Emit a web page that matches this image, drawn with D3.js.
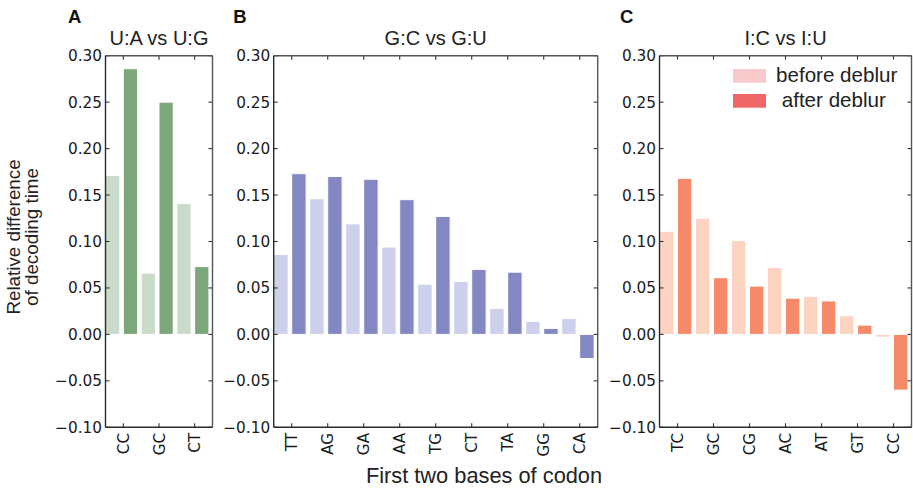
<!DOCTYPE html>
<html>
<head>
<meta charset="utf-8">
<script src="https://cdn.jsdelivr.net/npm/d3@7"></script>
<style>
  html, body { margin: 0; padding: 0; background: #fff; }
  svg { display: block; }
</style>
</head>
<body>
<svg id="chart" width="913" height="489"></svg>
<script>
// Relative difference of decoding time per first-two-base codon group
const codonsA = ["CC", "GC", "CT"];
const beforeA = [0.171, 0.066, 0.141];
const afterA  = [0.286, 0.250, 0.073];

const codonsB = ["TT", "AG", "GA", "AA", "TG", "CT", "TA", "GG", "CA"];
const beforeB = [0.086, 0.146, 0.119, 0.094, 0.054, 0.057, 0.028, 0.014, 0.017];
const afterB  = [0.173, 0.170, 0.167, 0.145, 0.127, 0.070, 0.067, 0.0065, -0.026];

const codonsC = ["TC", "GC", "CG", "AC", "AT", "GT", "CC"];
const beforeC = [0.111, 0.125, 0.101, 0.072, 0.041, 0.020, -0.003];
const afterC  = [0.168, 0.061, 0.052, 0.039, 0.036, 0.010, -0.060];

const yTicks = [-0.10, -0.05, 0.00, 0.05, 0.10, 0.15, 0.20, 0.25, 0.30];
const legendLabels = ["before deblur", " after deblur"];

const panels = [
  { letter: "A", title: "U:A vs U:G", codons: codonsA, before: beforeA, after: afterA,
    left: 105.5, right: 212.5, colors: ["#c9dbc9", "#7ba77b"] },
  { letter: "B", title: "G:C vs G:U", codons: codonsB, before: beforeB, after: afterB,
    left: 273.7, right: 597.7, colors: ["#cdd0ea", "#8388c2"] },
  { letter: "C", title: "I:C vs I:U", codons: codonsC, before: beforeC, after: afterC,
    left: 659.5, right: 911.5, colors: ["#fdd4c2", "#f7896b"] }
];

const plotTop = 55.7, plotBottom = 427.3;
const y = d3.scaleLinear().domain([-0.10, 0.30]).range([plotBottom, plotTop]);
const fmt = d3.format(".2f");
const sansUI = "'Liberation Sans', Arial, Helvetica, sans-serif";
const sansTick = "'DejaVu Sans', sans-serif";
const tickLen = 4;

const svg = d3.select("#chart");

panels.forEach(p => {
  const n = p.codons.length;
  const x = d3.scaleLinear().domain([0, 2 * n]).range([p.left, p.right]);
  const g = svg.append("g");

  // bars: "before" at even slots, "after" at odd slots, width 0.8 slot
  const rows = [];
  p.codons.forEach((c, i) => {
    rows.push({ pos: 2 * i, v: p.before[i], color: p.colors[0] });
    rows.push({ pos: 2 * i + 1, v: p.after[i], color: p.colors[1] });
  });
  g.selectAll("rect.bar").data(rows).join("rect")
    .attr("class", "bar")
    .attr("x", d => x(d.pos))
    .attr("width", d => x(d.pos + 0.8) - x(d.pos))
    .attr("y", d => y(Math.max(0, d.v)))
    .attr("height", d => Math.abs(y(d.v) - y(0)))
    .attr("fill", d => d.color)
    .attr("stroke", "#fff")
    .attr("stroke-width", 1);

  // inward ticks on all four sides
  const tickPos = p.codons.map((c, i) => 2 * i + 1);
  const tk = g.append("g").attr("stroke", "#333").attr("stroke-width", 1.1);
  yTicks.forEach(t => {
    tk.append("line").attr("x1", p.left).attr("x2", p.left + tickLen).attr("y1", y(t)).attr("y2", y(t));
    tk.append("line").attr("x1", p.right).attr("x2", p.right - tickLen).attr("y1", y(t)).attr("y2", y(t));
  });
  tickPos.forEach(t => {
    tk.append("line").attr("x1", x(t)).attr("x2", x(t)).attr("y1", plotBottom).attr("y2", plotBottom - tickLen);
    tk.append("line").attr("x1", x(t)).attr("x2", x(t)).attr("y1", plotTop).attr("y2", plotTop + tickLen);
  });

  // frame
  const fr = g.append("g").attr("stroke-width", 1.4).attr("fill", "none");
  fr.append("line").attr("x1", p.left).attr("x2", p.right).attr("y1", plotTop).attr("y2", plotTop).attr("stroke", "#555");
  fr.append("line").attr("x1", p.right).attr("x2", p.right).attr("y1", plotTop).attr("y2", plotBottom).attr("stroke", "#555");
  fr.append("line").attr("x1", p.left).attr("x2", p.right).attr("y1", plotBottom).attr("y2", plotBottom).attr("stroke", "#2a2a2a");
  fr.append("line").attr("x1", p.left).attr("x2", p.left).attr("y1", plotTop).attr("y2", plotBottom).attr("stroke", "#2a2a2a");

  // y tick labels
  g.selectAll("text.ytl").data(yTicks).join("text")
    .attr("class", "ytl")
    .attr("x", p.left - 3.5)
    .attr("y", d => y(d))
    .attr("dy", "0.36em")
    .attr("text-anchor", "end")
    .attr("font-family", sansTick)
    .attr("font-size", 15.3)
    .attr("fill", "#1a1a1a")
    .text(d => fmt(d));

  // x tick labels, rotated
  g.selectAll("text.xtl").data(tickPos).join("text")
    .attr("class", "xtl")
    .attr("transform", d => `translate(${x(d)},${plotBottom + 5.5}) rotate(-90)`)
    .attr("dy", "0.36em")
    .attr("text-anchor", "end")
    .attr("font-family", sansTick)
    .attr("font-size", 15.3)
    .attr("fill", "#1a1a1a")
    .text((d, i) => p.codons[i]);

  // panel title
  g.append("text")
    .attr("x", (p.left + p.right) / 2)
    .attr("y", 45)
    .attr("text-anchor", "middle")
    .attr("font-family", sansUI)
    .attr("font-size", 20)
    .attr("fill", "#222")
    .text(p.title);
});

// panel letters
const letterX = [68, 233.3, 620];
panels.forEach((p, i) => {
  svg.append("text")
    .attr("x", letterX[i]).attr("y", 23)
    .attr("font-family", sansUI)
    .attr("font-weight", "bold")
    .attr("font-size", 18.5)
    .attr("fill", "#111")
    .text(p.letter);
});

// legend inside panel C
const legendColors = ["#f9c9c9", "#f06666"];
legendLabels.forEach((lab, i) => {
  const yy = 69 + i * 25;
  svg.append("rect")
    .attr("x", 733).attr("y", yy).attr("width", 33).attr("height", 13.7)
    .attr("fill", legendColors[i]);
  svg.append("text")
    .attr("x", 776).attr("y", yy + 12.7)
    .attr("font-family", sansUI)
    .attr("font-size", 20.6)
    .attr("fill", "#222")
    .attr("xml:space", "preserve")
    .style("white-space", "pre")
    .text(lab);
});

// y axis label (two lines)
const yLabel = ["Relative difference", "of decoding time"];
yLabel.forEach((t, i) => {
  svg.append("text")
    .attr("transform", `translate(${20 + i * 18},237) rotate(-90)`)
    .attr("text-anchor", "middle")
    .attr("font-family", sansUI)
    .attr("font-size", 18.8)
    .attr("fill", "#222")
    .text(t);
});

// x axis label
svg.append("text")
  .attr("x", 484).attr("y", 483)
  .attr("text-anchor", "middle")
  .attr("font-family", sansUI)
  .attr("font-size", 21.8)
  .attr("fill", "#222")
  .text("First two bases of codon");
</script>
</body>
</html>
